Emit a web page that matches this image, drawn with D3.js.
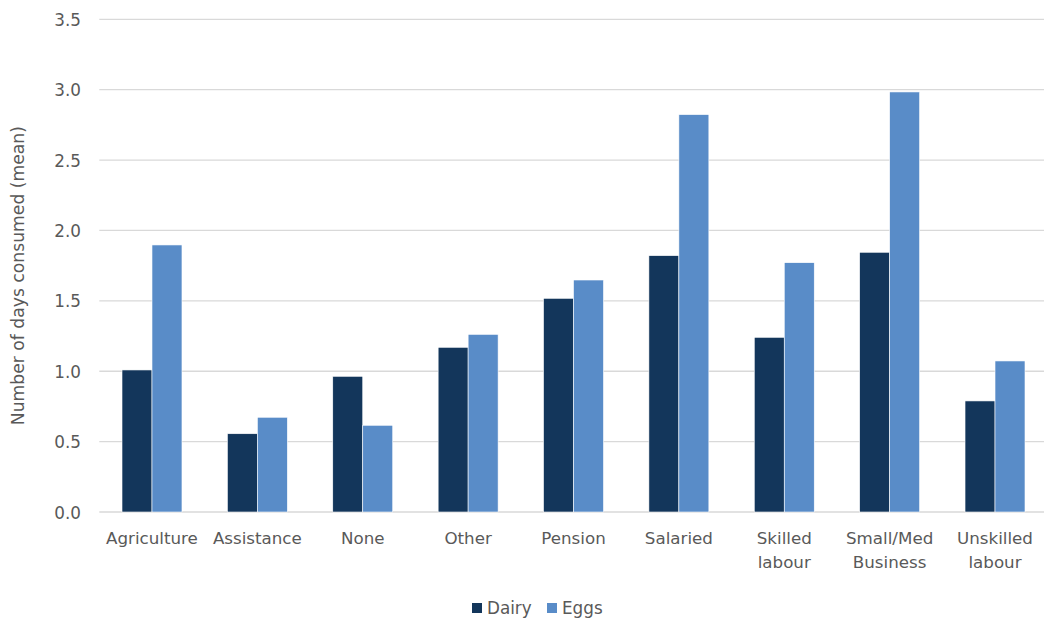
<!DOCTYPE html>
<html>
<head>
<meta charset="utf-8">
<script src="https://cdn.jsdelivr.net/npm/d3@7"></script>
<style>
  html, body { margin: 0; padding: 0; background: #fff; }
  svg { display: block; }
  text { font-family: "DejaVu Sans", Verdana, sans-serif; fill: #595959; }
</style>
</head>
<body>
<svg id="chart" width="1044" height="623"></svg>
<script>
const categories = ["Agriculture", "Assistance", "None", "Other", "Pension", "Salaried", "Skilled labour", "Small/Med Business", "Unskilled labour"];
const categoryLines = [["Agriculture"], ["Assistance"], ["None"], ["Other"], ["Pension"], ["Salaried"], ["Skilled", "labour"], ["Small/Med", "Business"], ["Unskilled", "labour"]];
const seriesNames = ["Dairy", "Eggs"];
const dairy = [1.009, 0.556, 0.964, 1.170, 1.518, 1.821, 1.241, 1.845, 0.789];
const eggs = [1.897, 0.673, 0.616, 1.262, 1.648, 2.823, 1.771, 2.984, 1.073];
const yTicks = [0, 0.5, 1.0, 1.5, 2.0, 2.5, 3.0, 3.5];
const colors = ["#13365b", "#598cc8"];
const yTitle = "Number of days consumed (mean)";

const svg = d3.select("#chart");
const pLeft = 99.3, pRight = 1047.7, pTop = 19.3, pBottom = 512;

const x = d3.scaleBand().domain(categories).range([pLeft, pRight]).paddingInner(0).paddingOuter(0);
const xs = d3.scaleBand().domain(seriesNames).range([0, x.bandwidth()]).paddingInner(0).paddingOuter(0.757);
const y = d3.scaleLinear().domain([0, 3.5]).range([pBottom, pTop]);

// gridlines
svg.append("g").selectAll("line").data(yTicks).join("line")
  .attr("x1", pLeft).attr("x2", 1044)
  .attr("y1", d => y(d)).attr("y2", d => y(d))
  .attr("stroke", "#d9d9d9").attr("stroke-width", 1.3);

// y tick labels
const yAxis = d3.axisLeft(y).tickValues(yTicks).tickFormat(d3.format(".1f")).tickSize(0).tickPadding(0);
const ya = svg.append("g").attr("transform", `translate(81,0)`).call(yAxis);
ya.select(".domain").remove();
ya.selectAll("text").attr("font-size", 16.8).attr("fill", "#595959").attr("font-family", "DejaVu Sans, sans-serif").attr("dy", "0.36em");

// bars
const series = [dairy, eggs];
const g = svg.append("g");
seriesNames.forEach((s, si) => {
  g.append("g").selectAll("rect").data(categories).join("rect")
    .attr("x", c => x(c) + xs(s))
    .attr("width", xs.bandwidth())
    .attr("y", (c, i) => y(series[si][i]))
    .attr("height", (c, i) => y(0) - y(series[si][i]))
    .attr("fill", colors[si])
    .attr("stroke", "#ffffff").attr("stroke-width", 0.6);
});

// x labels
const xl = svg.append("g");
categories.forEach((c, i) => {
  const t = xl.append("text")
    .attr("x", x(c) + x.bandwidth() / 2)
    .attr("y", 544)
    .attr("text-anchor", "middle")
    .attr("font-size", 16.7);
  categoryLines[i].forEach((ln, li) => {
    t.append("tspan").attr("x", x(c) + x.bandwidth() / 2).attr("dy", li === 0 ? 0 : 24).text(ln);
  });
});

// y title
svg.append("text")
  .attr("transform", `translate(24,${(pTop + pBottom) / 2 + 10}) rotate(-90)`)
  .attr("text-anchor", "middle")
  .attr("font-size", 17.2)
  .text(yTitle);

// legend
const legend = svg.append("g");
const legX = [472, 547];
seriesNames.forEach((s, i) => {
  legend.append("rect").attr("x", legX[i]).attr("y", 603).attr("width", 10).attr("height", 10).attr("fill", colors[i]);
  legend.append("text").attr("x", legX[i] + 15).attr("y", 614).attr("font-size", 16.8).text(s);
});
</script>
</body>
</html>
